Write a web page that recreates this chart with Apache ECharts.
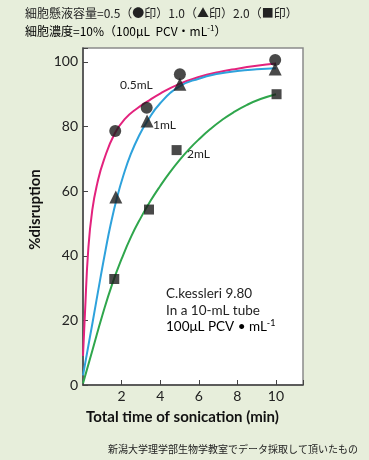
<!DOCTYPE html>
<html><head><meta charset="utf-8">
<script src="https://cdn.jsdelivr.net/npm/echarts@6/dist/echarts.min.js"></script>
<style>html,body{margin:0;padding:0;background:#e7eedb;}#c{width:369px;height:460px;}</style>
</head><body><div id="c"></div>
<script>
// measured points
const timeCircle = [1.67, 3.30, 5.02, 9.96];
const valCircle = [78.6, 85.8, 96.2, 100.6];
const timeTriangle = [1.70, 3.32, 5.02, 9.96];
const valTriangle = [58.2, 81.7, 93.1, 97.8];
const timeSquare = [1.62, 3.42, 4.85, 10.03];
const valSquare = [32.8, 54.3, 72.7, 90.0];
// fitted curves
const pinkX = [0, 0.1, 0.27, 0.48, 0.74, 1.08, 1.65, 2.2, 2.8, 3.3, 4, 5, 6, 7, 8, 9, 10];
const pinkY = [9, 22, 41.7, 54.1, 62.4, 69.6, 77.9, 82.5, 85.6, 87.6, 90.2, 93.2, 95.3, 96.8, 97.9, 98.8, 99.5];
const blueX = [0, 0.5, 0.9, 1.17, 1.43, 1.77, 2.1, 2.48, 2.89, 3.3, 4, 5, 6, 7, 8, 9, 10];
const blueY = [3, 19.5, 33, 41.8, 49.6, 58.2, 65, 71.5, 77, 81.3, 87.2, 92.4, 94.8, 96.3, 97.2, 97.7, 98];
const greenX = [0, 0.5, 1, 1.5, 2, 2.5, 3, 3.5, 4, 4.5, 5, 5.5, 6, 6.6, 7.2, 7.8, 8.5, 9.2, 10];
const greenY = [0.5, 11, 21.5, 31, 39, 46, 51.8, 57, 61.6, 65.8, 69.6, 73, 76, 79.2, 82, 84.4, 86.7, 88.5, 90];
const yTicks = [0, 20, 40, 60, 80, 100];
const xTicks = [2, 4, 6, 8, 10];

const zip = (a, b) => a.map((v, i) => [v, b[i]]);
const chart = echarts.init(document.getElementById('c'));
const numFont = 'Lato';
const jp = '"Noto Sans CJK JP"';
const lineS = (d, c) => ({type: 'line', data: d, showSymbol: false, smooth: 0.5,
  lineStyle: {color: c, width: 2}, silent: true, z: 2});
const scat = (d, sym, size) => ({type: 'scatter', data: d, symbol: sym, symbolSize: size,
  itemStyle: {color: '#1b1b1b'}, z: 3});
const rich = {n: {fontFamily: jp, fontSize: 12, color: '#222'}, s: {fontFamily: jp, fontSize: 8, color: '#222', verticalAlign: 'top', padding: [0,0,6,0]}};
chart.setOption({
  backgroundColor: '#e7eedb',
  animation: false,
  grid: {left: 83, right: 66, top: 48, bottom: 75, show: true, backgroundColor: '#fff', borderColor: '#8a8a8a', borderWidth: 1.5},
  xAxis: {type: 'value', min: 0, max: 11.4, interval: 2,
    axisLine: {lineStyle: {color: '#444', width: 1.5}},
    axisTick: {inside: true, length: 5, lineStyle: {color: '#444'}},
    splitLine: {show: false},
    axisLabel: {margin: 4, fontFamily: numFont, fontSize: 14, color: '#222',
      formatter: v => xTicks.includes(v) ? String(v) : ''},
    name: 'Total time of sonication (min)', nameLocation: 'middle', nameGap: 25,
    nameTextStyle: {fontFamily: numFont, fontWeight: 'bold', fontSize: 15, color: '#111', padding: [0, 21, 0, 0]}},
  yAxis: {type: 'value', min: 0, max: 104.3, interval: 20,
    axisLine: {lineStyle: {color: '#444', width: 1.5}},
    axisTick: {inside: true, length: 5, lineStyle: {color: '#444'}},
    splitLine: {show: false},
    axisLabel: {margin: 5, fontFamily: numFont, fontSize: 14, color: '#222',
      formatter: v => yTicks.includes(v) ? String(v) : ''},
    name: '%disruption', nameLocation: 'middle', nameGap: 40,
    nameTextStyle: {fontFamily: numFont, fontWeight: 'bold', fontSize: 15, color: '#111', padding: [0, 0, 0, 14]}},
  series: [
    lineS(zip(pinkX, pinkY), '#e3227d'),
    lineS(zip(blueX, blueY), '#2ea2dc'),
    lineS(zip(greenX, greenY), '#2fa64c'),
    scat(zip(timeCircle, valCircle), 'circle', 12),
    scat(zip(timeTriangle, valTriangle), 'triangle', 13),
    scat(zip(timeSquare, valSquare), 'rect', 10)
  ],
  graphic: [
    {type: 'text', left: 25, top: 7, style: {text: '細胞懸液容量=0.5（●印）1.0（▲印）2.0（■印）', fontFamily: jp, fontSize: 12, fill: '#222'}},
    {type: 'text', left: 25, top: 24, style: {text: '{n|細胞濃度=10%（100μL  PCV・mL}{s|-1}{n|）}', rich: rich}},
    {type: 'text', left: 120, top: 79, style: {text: '0.5mL', fontFamily: numFont, fontSize: 12, fill: '#222'}},
    {type: 'text', left: 153, top: 119, style: {text: '1mL', fontFamily: numFont, fontSize: 12, fill: '#222'}},
    {type: 'text', left: 187, top: 148, style: {text: '2mL', fontFamily: numFont, fontSize: 12, fill: '#222'}},
    {type: 'text', left: 166, top: 285, style: {text: 'C.kessleri 9.80\nIn a 10-mL tube', fontFamily: numFont, fontSize: 13.5, lineHeight: 17, fill: '#222'}},
    {type: 'text', left: 166, top: 319, style: {text: '{a|100μL PCV • mL}{b|-1}', rich: {a: {fontFamily: numFont, fontSize: 13.5, color: '#222'}, b: {fontFamily: numFont, fontSize: 9, color: '#222', verticalAlign: 'top', padding: [0,0,6,0]}}}},
    {type: 'text', right: 11, top: 444, style: {text: '新潟大学理学部生物学教室でデータ採取して頂いたもの', fontFamily: jp, fontSize: 10, fill: '#222'}}
  ]
});
</script></body></html>
